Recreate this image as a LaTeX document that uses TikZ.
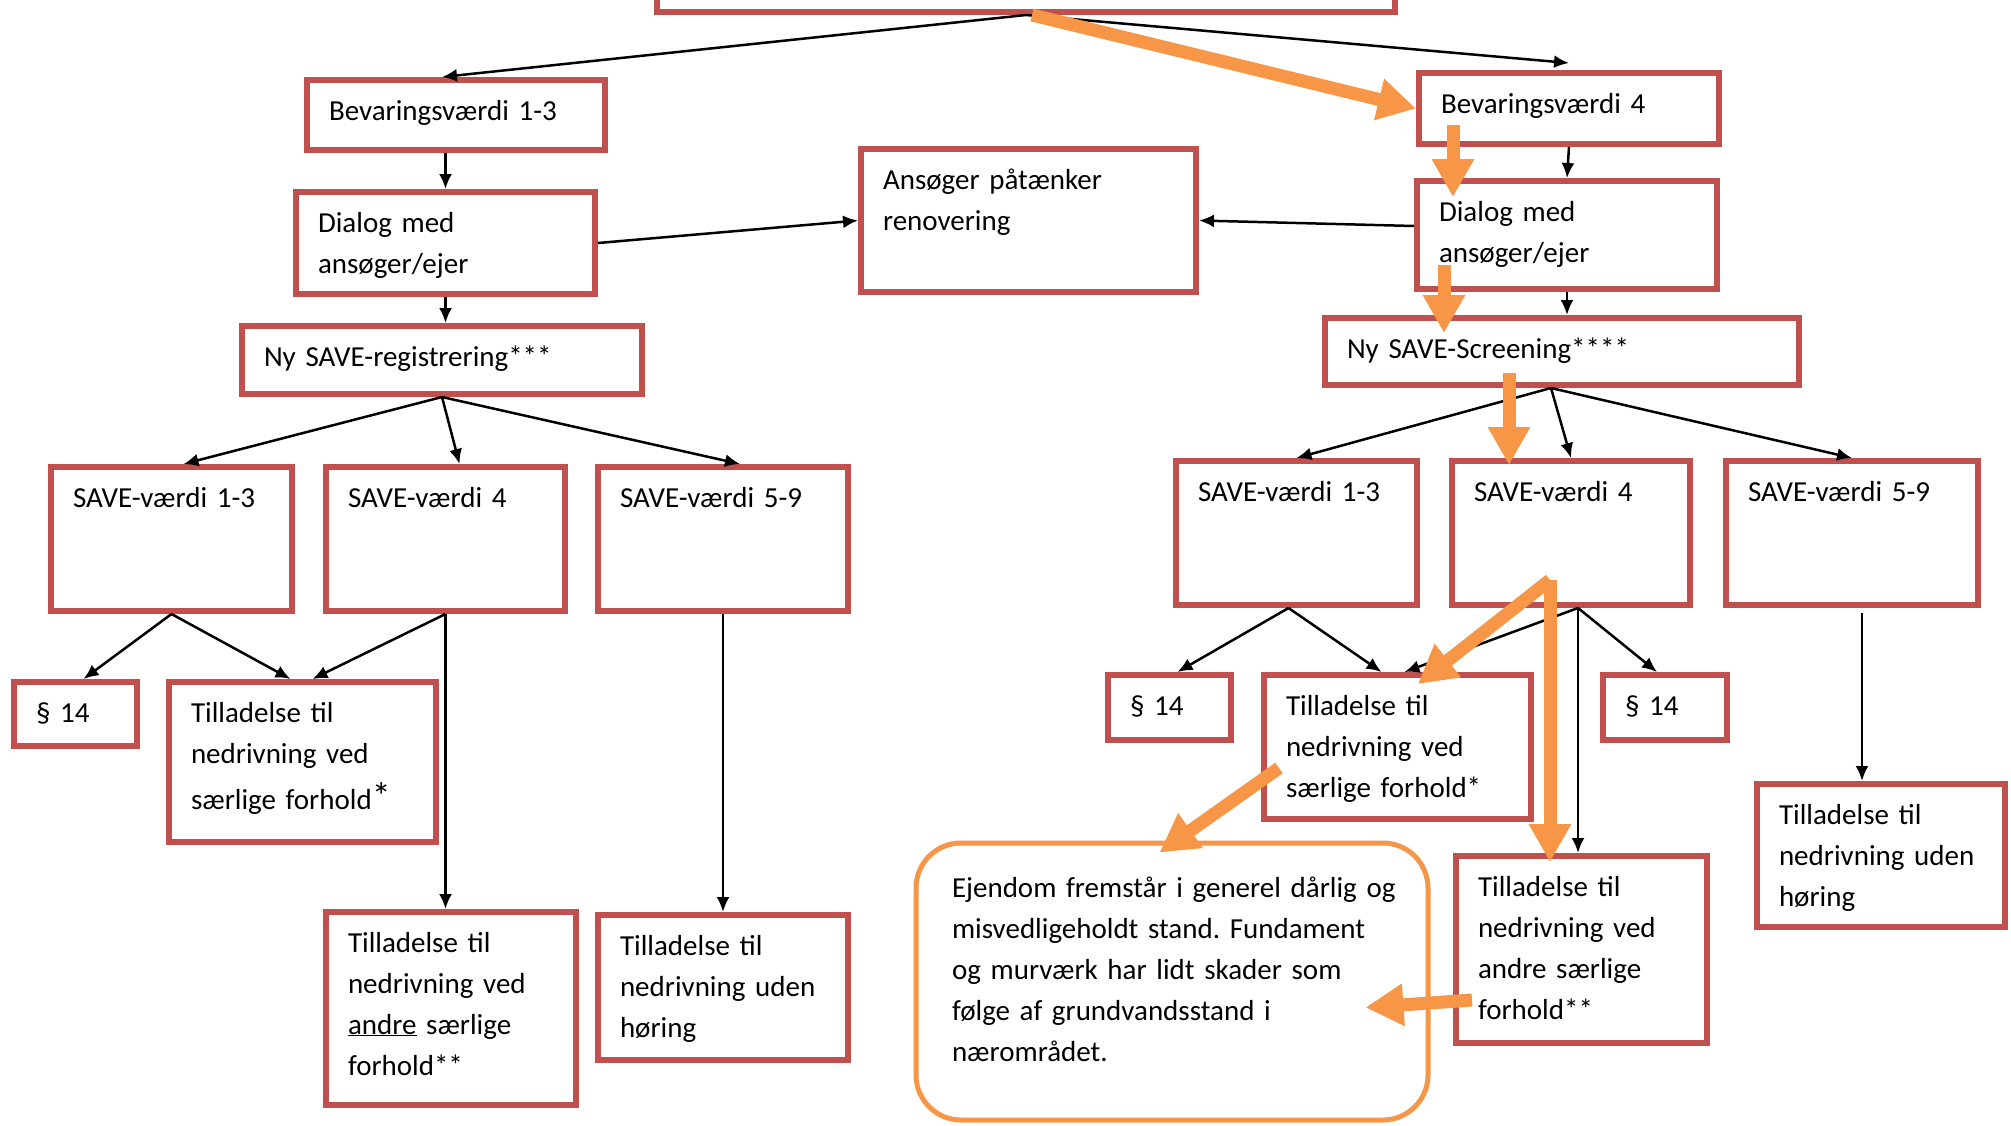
\documentclass[tikz,border=0pt]{standalone}
\usepackage{fontspec}
\setmainfont{Carlito}
\usepackage{tikz}
\usetikzlibrary{arrows.meta}
\definecolor{boxred}{HTML}{C0504D}
\definecolor{hlorange}{HTML}{F79646}
\frenchspacing

\begin{document}
\begin{tikzpicture}[x=1pt, y=-1pt, >={Latex[length=15pt,width=13pt]},
  every node/.style={font=\fontsize{29}{41}\selectfont},
  box/.style n args={2}{draw=boxred, line width=6pt, anchor=north west, align=left, inner xsep=22pt, inner ysep=0pt, text width=#1, text height=40pt, text depth=#2},
  flow/.style={->, line width=2.5pt},
  hl/.style={draw=hlorange, line width=13pt, -{Triangle[length=38pt,width=40pt]}}]
\path[use as bounding box, fill=white] (0,0) rectangle (2011,1125);
\clip (0,0) rectangle (2011,1125);

\node[draw=boxred, line width=6pt, anchor=south west, inner sep=0pt, minimum width=738pt, minimum height=72pt] (start) at (654,15) {};
\node[box={254pt}{30pt}] (bev13) at (304,77) {Bevaringsværdi 1-3};
\node[box={256pt}{31pt}] (bev4) at (1416,70) {Bevaringsværdi 4};
\node[box={291pt}{103pt}] (ansoger) at (858,146) {Ansøger påtænker\\ renovering};
\node[box={255pt}{62pt}] (dialogL) at (293,189) {Dialog med\\ ansøger/ejer};
\node[box={256pt}{68pt}] (dialogR) at (1414,178) {Dialog med\\ ansøger/ejer};
\node[box={356pt}{28pt}] (saveregL) at (239,323) {Ny SAVE-registrering***};
\node[box={430pt}{27pt}] (screenR) at (1322,315) {Ny SAVE-Screening****};

\node[box={197pt}{104pt}] (save13L) at (48,464) {SAVE-værdi 1-3};
\node[box={195pt}{104pt}] (save4L) at (323,464) {SAVE-værdi 4};
\node[box={206pt}{104pt}] (save59L) at (595,464) {SAVE-værdi 5-9};
\node[box={197pt}{104pt}] (save13R) at (1173,458) {SAVE-værdi 1-3};
\node[box={194pt}{104pt}] (save4R) at (1449,458) {SAVE-værdi 4};
\node[box={208pt}{104pt}] (save59R) at (1723,458) {SAVE-værdi 5-9};

\node[box={79pt}{24pt}] (par14L) at (11,679) {§ 14};
\node[box={223pt}{120pt}] (tillL) at (166,679) {Tilladelse til\\ nedrivning ved\\[5pt] særlige forhold{\fontsize{38}{38}\selectfont*}};
\node[box={206pt}{153pt}] (andreL) at (323,909) {Tilladelse til\\ nedrivning ved\\ \underline{andre} særlige\\ forhold**};
\node[box={206pt}{105pt}] (udenL) at (595,912) {Tilladelse til\\ nedrivning uden\\ høring};
\node[box={79pt}{25pt}] (par14Ra) at (1105,672) {§ 14};
\node[box={223pt}{104pt}] (tillR) at (1261,672) {Tilladelse til\\ nedrivning ved\\ særlige forhold*};
\node[box={80pt}{25pt}] (par14Rb) at (1600,672) {§ 14};
\node[box={207pt}{147pt}] (andreR) at (1453,853) {Tilladelse til\\ nedrivning ved\\ andre særlige\\ forhold**};
\node[box={204pt}{103pt}] (udenR) at (1754,781) {Tilladelse til\\ nedrivning uden\\ høring};
\node[draw=hlorange, line width=5pt, rounded corners=45pt, anchor=north west, align=left, inner xsep=36pt, inner ysep=0pt, text width=440pt, text height=54pt, text depth=223pt] (note) at (913.5,840.5) {\mbox{Ejendom fremstår i generel dårlig og}\\ \mbox{misvedligeholdt stand. Fundament}\\ og murværk har lidt skader som\\ følge af grundvandsstand i\\ nærområdet.};

\coordinate (fork) at ([xshift=7pt]save4R.south);
\coordinate (drop) at ([xshift=10pt,yshift=-5pt]save59R.south);
\coordinate (turn) at ([xshift=101pt,yshift=28pt]save4R.south west);

\draw[flow] (start.south) -- ([xshift=-14pt]bev13.north);
\draw[flow] (start.south) -- ([yshift=7pt]bev4.north);
\draw[flow] (dialogL.north |- bev13.south) -- (dialogL.north);
\draw[flow] (dialogL.east) -- (ansoger.west);
\draw[flow] ([yshift=9pt]dialogR.west) -- (ansoger.east);
\draw[flow] (bev4.south) -- (dialogR.north);
\draw[flow] (dialogR.south) -- (dialogR.south |- screenR.north);
\draw[flow] (dialogL.south) -- (dialogL.south |- saveregL.north);
\draw[flow] (saveregL.south) -- ([xshift=12pt]save13L.north);
\draw[flow] (saveregL.south) -- ([xshift=14pt]save4L.north);
\draw[flow] (saveregL.south) -- ([xshift=17pt]save59L.north);
\draw[flow] ([xshift=-11pt]screenR.south) -- (save13R.north);
\draw[flow] ([xshift=-11pt]screenR.south) -- (save4R.north);
\draw[flow] ([xshift=-11pt]screenR.south) -- (save59R.north);
\draw[flow] (save13L.south) -- ([xshift=8pt]par14L.north);
\draw[flow] (save13L.south) -- ([xshift=-12pt]tillL.north);
\draw[flow] (save4L.south) -- ([xshift=10pt]tillL.north);
\draw[flow] (save4L.south) -- (save4L.south |- andreL.north);
\draw[flow] (save59L.south) -- (udenL.north);
\draw[flow] ([xshift=-8pt]save13R.south) -- ([xshift=8pt]par14Ra.north);
\draw[flow] ([xshift=-8pt]save13R.south) -- ([xshift=-16pt]tillR.north);
\draw[flow] (fork) -- ([xshift=7pt]tillR.north);
\draw[flow] (fork) -- ([xshift=-8pt]par14Rb.north);
\draw[flow] (fork) -- (fork |- andreR.north);
\draw[flow] (drop) -- (drop |- udenR.north);

\draw[hl] ([xshift=6pt]start.south) -- (bev4.west);
\draw[hl] ([xshift=37pt,yshift=22pt]bev4.south west) -- ([xshift=39pt,yshift=-19pt]dialogR.north west);
\draw[hl] ([xshift=30pt,yshift=27pt]dialogR.south west) -- ([xshift=122pt,yshift=-18pt]screenR.north west);
\draw[hl] ([xshift=187pt,yshift=15pt]screenR.south west) -- ([xshift=60pt,yshift=-7pt]save4R.north west);
\draw[hl] (turn) -- ([xshift=-116pt,yshift=-12pt]tillR.north east);
\draw[hl] (turn) -- ([xshift=97pt,yshift=-9pt]andreR.north west);
\draw[hl] ([xshift=18pt,yshift=54pt]tillR.south west) -- ([xshift=246pt,yshift=-12pt]note.north west);
\draw[hl] ([xshift=19pt,yshift=46pt]andreR.south west) -- ([xshift=-65pt,yshift=115pt]note.south east);
\end{tikzpicture}
\end{document}
